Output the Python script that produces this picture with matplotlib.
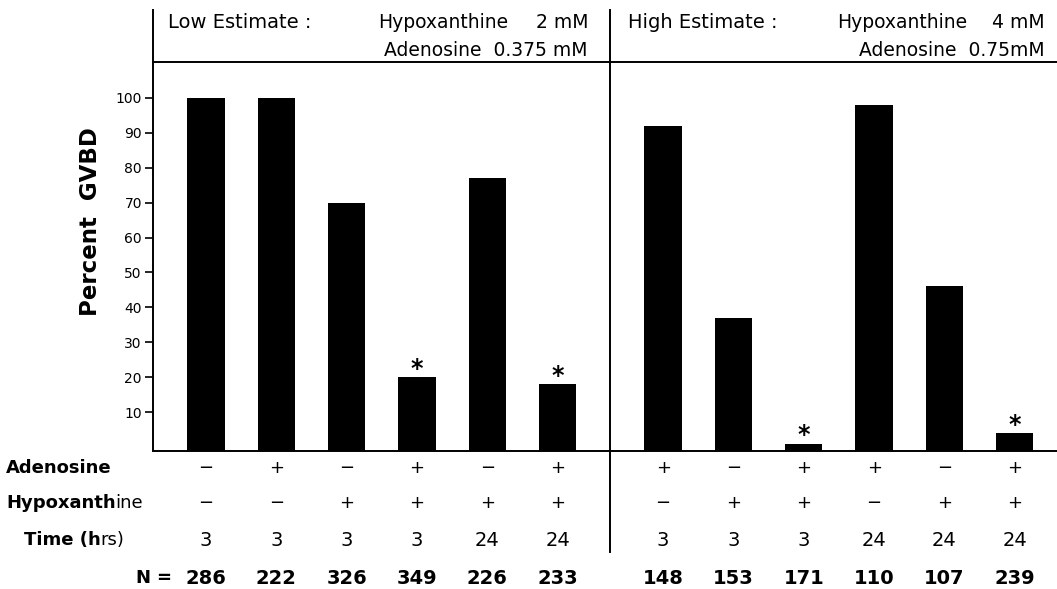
import numpy as np
import matplotlib.pyplot as plt

# percent GVBD
low_vals = [100, 100, 70, 20, 77, 18]
high_vals = [92, 37, 1, 98, 46, 4]
low_star = [False, False, False, True, False, True]
high_star = [False, False, True, False, False, True]

# condition table under the bars
low_adenosine = ['−', '+', '−', '+', '−', '+']
low_hypox = ['−', '−', '+', '+', '+', '+']
low_time = ['3', '3', '3', '3', '24', '24']
low_n = ['286', '222', '326', '349', '226', '233']
high_adenosine = ['+', '−', '+', '+', '−', '+']
high_hypox = ['−', '+', '+', '−', '+', '+']
high_time = ['3', '3', '3', '24', '24', '24']
high_n = ['148', '153', '171', '110', '107', '239']

yticks = [10, 20, 30, 40, 50, 60, 70, 80, 90, 100]

W, H = 1057, 589
fig = plt.figure(figsize=(W / 100, H / 100), dpi=100)
ax = fig.add_axes([153 / W, 1 - 450.5 / H, 1 - 153 / W, (450.5 - 62) / H])

def fx(px):
    return px / W

def fy(py):
    return 1 - py / H

x_low = np.arange(6)
x_high = np.arange(6) + 6.5
xs = np.concatenate([x_low, x_high])
vals = np.array(low_vals + high_vals, dtype=float)
stars = low_star + high_star

base = -1
ax.bar(xs, vals - base, bottom=base, width=0.53, color='black')
ax.set_xlim(-0.753, 12.1)
ax.set_ylim(base, 110.3)

# significance marks
for x, v, s in zip(xs, vals, stars):
    if s:
        ax.annotate('*', (x, v), xytext=(0, -2.5), textcoords='offset points',
                    ha='center', va='bottom', fontsize=17, fontweight='bold')

ax.spines['right'].set_visible(False)
for sp in ax.spines.values():
    sp.set_linewidth(1.4)
ax.set_xticks([])
ax.set_yticks(yticks)
ax.tick_params(axis='y', direction='out', length=6, width=1.2, labelsize=10, pad=2)

# header box lines and the divider between the two estimates
trans = ax.get_xaxis_transform()
ax.plot([-0.753, -0.753], [1, 1.134], color='black', lw=1.4, transform=trans, clip_on=False)
ax.plot([5.75, 5.75], [-0.261, 1.134], color='black', lw=1.4, transform=trans, clip_on=False)

ax.set_ylabel('Percent  GVBD', fontsize=16.5, fontweight='bold')
ax.yaxis.set_label_coords(-0.056, 0.59)

# header texts
fig.text(fx(168), fy(22), 'Low Estimate :', fontsize=14, va='center')
fig.text(fx(378), fy(22), 'Hypoxanthine', fontsize=13.5, va='center')
fig.text(fx(588), fy(22), '2 mM', fontsize=13.5, va='center', ha='right')
fig.text(fx(588), fy(50), 'Adenosine  0.375 mM', fontsize=13.5, va='center', ha='right')
fig.text(fx(628), fy(22), 'High Estimate :', fontsize=14, va='center')
fig.text(fx(837), fy(22), 'Hypoxanthine', fontsize=13.5, va='center')
fig.text(fx(1045), fy(22), '4 mM', fontsize=13.5, va='center', ha='right')
fig.text(fx(1045), fy(50), 'Adenosine  0.75mM', fontsize=13.5, va='center', ha='right')

# row labels
row_y = [468, 503, 540, 578]
fig.text(fx(6), fy(row_y[0]), 'Adenosine', fontsize=13, fontweight='bold', va='center')
t = fig.text(fx(6), fy(row_y[1]), 'Hypoxanth', fontsize=13, fontweight='bold', va='center')
fig.canvas.draw()
bb = t.get_window_extent()
fig.text(bb.x1 / W, fy(row_y[1]), 'ine', fontsize=13, va='center')
t = fig.text(fx(24), fy(row_y[2]), 'Time (h', fontsize=13, fontweight='bold', va='center')
fig.canvas.draw()
bb = t.get_window_extent()
fig.text(bb.x1 / W, fy(row_y[2]), 'rs)', fontsize=13, va='center')
fig.text(fx(150), fy(row_y[3]), 'N', fontsize=13, fontweight='bold', va='center', ha='right')
fig.text(fx(164), fy(row_y[3]), '=', fontsize=13, fontweight='bold', va='center', ha='center')

rows = [
    (low_adenosine + high_adenosine, 13, 'normal'),
    (low_hypox + high_hypox, 13, 'normal'),
    (low_time + high_time, 14, 'normal'),
    (low_n + high_n, 14, 'bold'),
]
for (labels, size, weight), py in zip(rows, row_y):
    yy = (450.5 - py) / (450.5 - 62)
    for x, lab in zip(xs, labels):
        ax.text(x, yy, lab, transform=trans, ha='center', va='center',
                fontsize=size, fontweight=weight, clip_on=False)

fig.savefig('out.png', dpi=100)
